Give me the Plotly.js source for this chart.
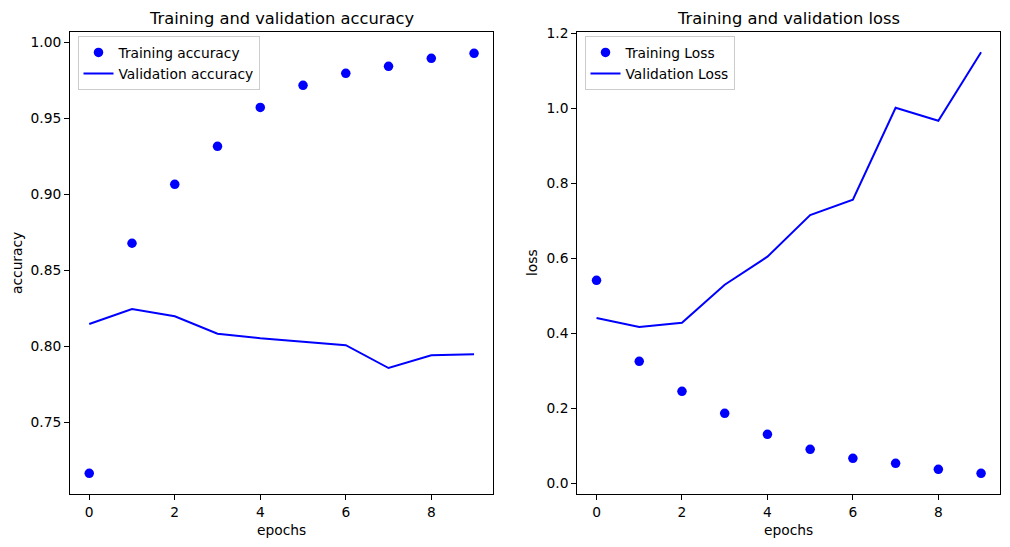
<!DOCTYPE html>
<html>
<head>
<meta charset="utf-8">
<script src="https://cdn.plot.ly/plotly-3.0.1.min.js"></script>
<style>html,body{margin:0;padding:0;background:#fff;}#chart{width:1010px;height:547px;}</style>
</head>
<body>
<div id="chart"></div>
<script>
const epochs = [0, 1, 2, 3, 4, 5, 6, 7, 8, 9];
const trainingAccuracy = [0.7164, 0.8678, 0.9066, 0.9316, 0.9572, 0.9717, 0.9796, 0.9842, 0.9895, 0.9928];
const validationAccuracy = [0.8147, 0.8245, 0.8197, 0.8083, 0.8053, 0.8030, 0.8007, 0.7857, 0.7941, 0.7947];
const trainingLoss = [0.5413, 0.3253, 0.2453, 0.1867, 0.1307, 0.0907, 0.0667, 0.0533, 0.0373, 0.0267];
const validationLoss = [0.4408, 0.4168, 0.4283, 0.5296, 0.6043, 0.7155, 0.7563, 1.0016, 0.9669, 1.1493];
const accTicks = [0.75, 0.80, 0.85, 0.90, 0.95, 1.00];
const lossTicks = [0.0, 0.2, 0.4, 0.6, 0.8, 1.0, 1.2];
const xTicks = [0, 2, 4, 6, 8];

const W = 1010, H = 547;
const FONT = 'DejaVu Sans, sans-serif';
const px = v => v / W;
const py = v => 1 - v / H;

const traces = [
  {x: epochs, y: trainingAccuracy, mode: 'markers', name: 'Training accuracy',
   marker: {color: '#0000ff', size: 9.5}, xaxis: 'x', yaxis: 'y', legend: 'legend'},
  {x: epochs, y: validationAccuracy, mode: 'lines', name: 'Validation accuracy',
   line: {color: '#0000ff', width: 2}, xaxis: 'x', yaxis: 'y', legend: 'legend'},
  {x: epochs, y: trainingLoss, mode: 'markers', name: 'Training Loss',
   marker: {color: '#0000ff', size: 9.5}, xaxis: 'x2', yaxis: 'y2', legend: 'legend2'},
  {x: epochs, y: validationLoss, mode: 'lines', name: 'Validation Loss',
   line: {color: '#0000ff', width: 2}, xaxis: 'x2', yaxis: 'y2', legend: 'legend2'}
];

const axisCommon = {
  showgrid: false, zeroline: false, showline: true, mirror: true,
  linecolor: '#000', linewidth: 1, ticks: 'outside', ticklen: 5, tickwidth: 1,
  tickcolor: '#000', tickfont: {family: FONT, size: 13.8, color: '#000'}
};

const legendCommon = {
  bgcolor: 'rgba(255,255,255,0.8)', bordercolor: '#cccccc', borderwidth: 1,
  font: {family: FONT, size: 13.8, color: '#000'}, xanchor: 'left', yanchor: 'top',
  tracegroupgap: 0
};

const layout = {
  width: W, height: H,
  margin: {l: 0, r: 0, t: 0, b: 0},
  paper_bgcolor: '#fff', plot_bgcolor: '#fff',
  font: {family: FONT, color: '#000'},
  xaxis: Object.assign({}, axisCommon, {domain: [px(70), px(493.3)], range: [-0.45, 9.45],
    tickvals: xTicks, anchor: 'y'}),
  yaxis: Object.assign({}, axisCommon, {domain: [py(494), py(32.3)], range: [0.7028, 1.0066],
    tickvals: accTicks, tickformat: '.2f', anchor: 'x'}),
  xaxis2: Object.assign({}, axisCommon, {domain: [px(577.3), px(1000.3)], range: [-0.45, 9.45],
    tickvals: xTicks, anchor: 'y2'}),
  yaxis2: Object.assign({}, axisCommon, {domain: [py(494), py(32.3)], range: [-0.0285, 1.2027],
    tickvals: lossTicks, tickformat: '.1f', anchor: 'x2'}),
  legend: Object.assign({}, legendCommon, {x: px(77.5), y: py(36)}),
  legend2: Object.assign({}, legendCommon, {x: px(584.5), y: py(36)}),
  annotations: [
    {text: 'Training and validation accuracy', xref: 'paper', yref: 'paper',
     x: px(281.7), y: py(18), xanchor: 'center', yanchor: 'middle', showarrow: false,
     font: {family: FONT, size: 16.3, color: '#000'}},
    {text: 'Training and validation loss', xref: 'paper', yref: 'paper',
     x: px(788.8), y: py(18), xanchor: 'center', yanchor: 'middle', showarrow: false,
     font: {family: FONT, size: 16.3, color: '#000'}},
    {text: 'epochs', xref: 'paper', yref: 'paper', x: px(281.7), y: py(530),
     xanchor: 'center', yanchor: 'middle', showarrow: false,
     font: {family: FONT, size: 13.8, color: '#000'}},
    {text: 'epochs', xref: 'paper', yref: 'paper', x: px(788.8), y: py(530),
     xanchor: 'center', yanchor: 'middle', showarrow: false,
     font: {family: FONT, size: 13.8, color: '#000'}},
    {text: 'accuracy', xref: 'paper', yref: 'paper', x: px(17), y: py(263),
     xanchor: 'center', yanchor: 'middle', showarrow: false, textangle: -90,
     font: {family: FONT, size: 13.8, color: '#000'}},
    {text: 'loss', xref: 'paper', yref: 'paper', x: px(532), y: py(263),
     xanchor: 'center', yanchor: 'middle', showarrow: false, textangle: -90,
     font: {family: FONT, size: 13.8, color: '#000'}}
  ],
  showlegend: true
};

Plotly.newPlot('chart', traces, layout, {displayModeBar: false, staticPlot: true});
</script>
</body>
</html>
